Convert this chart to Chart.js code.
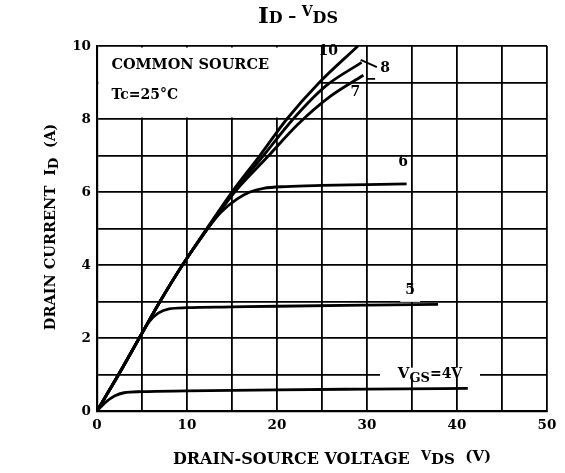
<!DOCTYPE html>
<html>
<head>
<meta charset="utf-8">
<script src="https://cdn.jsdelivr.net/npm/chart.js@4.4.1/dist/chart.umd.min.js"></script>
<style>
html,body{margin:0;padding:0;background:#fff;}
#c{display:block;}
</style>
</head>
<body>
<canvas id="c" width="565" height="473"></canvas>
<script>
// ---- data ----
const xTickValues = [0, 10, 20, 30, 40, 50];
const yTickValues = [0, 2, 4, 6, 8, 10];
const seriesNames = ['10', '8', '7', '6', '5', '4'];

const vds10 = [0, 2.4, 4.7, 7.0, 9.5, 12.2, 15.0, 18.1, 21.1, 24.7, 29.0];
const id10  = [0, 1, 2, 3, 4, 5, 6, 7, 8, 9, 10];

const vds8 = [0, 2.4, 4.7, 7.0, 9.5, 12.3, 15.2, 18.5, 21.8, 25.4, 29.4];
const id8  = [0, 1, 2, 3, 4, 5, 6, 7, 8, 8.9, 9.55];

const vds7 = [0, 2.4, 4.7, 7.0, 9.5, 12.3, 15.3, 18.9, 22.3, 25.8, 29.6];
const id7  = [0, 1, 2, 3, 4, 5, 6, 6.95, 7.85, 8.6, 9.2];

const vds6 = [0, 2.4, 4.7, 7.0, 9.5, 12.3, 13.8, 15.5, 17.0, 18.5, 21, 25, 30, 34.4];
const id6  = [0, 1, 2, 3, 4, 5, 5.45, 5.8, 6.0, 6.1, 6.15, 6.18, 6.2, 6.22];

const vds5 = [0, 2.4, 4.7, 5.8, 6.8, 8.0, 10, 15, 20, 30, 37.9];
const id5  = [0, 1, 2, 2.45, 2.68, 2.8, 2.83, 2.85, 2.87, 2.9, 2.92];

const vds4 = [0, 1, 2, 3, 5, 10, 20, 30, 41.2];
const id4  = [0, 0.25, 0.42, 0.5, 0.53, 0.55, 0.58, 0.6, 0.62];

// label anchors (data units)
const curveLabels = [
  {text: '10', v: 25.7, i: 9.84},
  {text: '8',  v: 32.0, i: 9.4},
  {text: '7',  v: 28.7, i: 8.74},
  {text: '6',  v: 34.0, i: 6.8},
  {text: '5',  v: 34.8, i: 3.3}
];

const FONT = '"DejaVu Serif", "Liberation Serif", serif';

function pts(xs, ys){ return xs.map((x,k)=>({x:x, y:ys[k]})); }
function ds(xs, ys){
  return {data: pts(xs, ys), borderColor:'#000', borderWidth:2.8, pointRadius:0,
          showLine:true, fill:false, cubicInterpolationMode:'monotone'};
}

function drawRich(ctx, segs, cx, cy){
  let w = 0;
  segs.forEach(s=>{ ctx.font = 'bold ' + s.size + 'px ' + FONT; s.w = ctx.measureText(s.t).width; w += s.w; });
  let x = cx - w/2;
  ctx.textAlign = 'left'; ctx.textBaseline = 'alphabetic';
  segs.forEach(s=>{ ctx.font = 'bold ' + s.size + 'px ' + FONT; ctx.fillText(s.t, x, cy + (s.dy||0)); x += s.w; });
}

const deco = {
  id: 'deco',
  beforeDatasetsDraw(chart){
    const ctx = chart.ctx, xs = chart.scales.x, ys = chart.scales.y;
    ctx.save();
    ctx.fillStyle = '#fff';
    // legend box (0..25 V, 8..10 A): hide inner grid
    const x0 = xs.getPixelForValue(0), x1 = xs.getPixelForValue(25);
    const y0 = ys.getPixelForValue(10), y1 = ys.getPixelForValue(8);
    ctx.fillRect(x0 + 1.5, y0 + 1.5, x1 - x0 - 3, y1 - y0 - 3);
    // gaps in grid for labels
    const gx = xs.getPixelForValue(34.8), gy = ys.getPixelForValue(3.1);
    ctx.fillRect(gx - 10, gy - 4, 20, 8);
    const vx = xs.getPixelForValue(37.0), vy = ys.getPixelForValue(1.05);
    ctx.fillRect(vx - 50, vy - 5, 100, 10);
    ctx.restore();
  },
  afterDatasetsDraw(chart){
    const ctx = chart.ctx, xs = chart.scales.x, ys = chart.scales.y;
    ctx.save();
    ctx.fillStyle = '#000'; ctx.strokeStyle = '#000';
    // title
    drawRich(ctx, [{t:'I', size:23}, {t:'D', size:16}, {t:' \u2013 ', size:16, dy:-1}, {t:'V', size:14, dy:-7}, {t:'DS', size:16}], 298, 23);
    // box text
    ctx.textAlign = 'left'; ctx.textBaseline = 'middle';
    ctx.font = 'bold 14.5px ' + FONT;
    ctx.fillText('COMMON SOURCE', xs.getPixelForValue(1.6), ys.getPixelForValue(9.48));
    ctx.font = 'bold 14px ' + FONT;
    ctx.fillText('Tc=25\u00B0C', xs.getPixelForValue(1.6), ys.getPixelForValue(8.65));
    // curve labels
    ctx.textAlign = 'center'; ctx.font = 'bold 14px ' + FONT;
    curveLabels.forEach(l => ctx.fillText(l.text, xs.getPixelForValue(l.v), ys.getPixelForValue(l.i)));
    // arrow for 8
    ctx.lineWidth = 1.8;
    ctx.beginPath();
    ctx.moveTo(xs.getPixelForValue(31.1), ys.getPixelForValue(9.42));
    ctx.lineTo(xs.getPixelForValue(29.3), ys.getPixelForValue(9.62));
    ctx.moveTo(xs.getPixelForValue(29.9), ys.getPixelForValue(9.1));
    ctx.lineTo(xs.getPixelForValue(30.9), ys.getPixelForValue(9.1));
    ctx.stroke();
    // VGS = 4V label
    drawRich(ctx, [{t:'V', size:15}, {t:'GS', size:13, dy:4}, {t:'=4V', size:14}], xs.getPixelForValue(37.0), ys.getPixelForValue(1.05) + 5);
    // x axis title
    drawRich(ctx, [{t:'DRAIN-SOURCE VOLTAGE  ', size:16}, {t:'V', size:13, dy:-4}, {t:'DS', size:15}, {t:'  (V)', size:15, dy:-3}], 332, 464);
    // y axis title
    ctx.translate(50, 227);
    ctx.rotate(-Math.PI/2);
    drawRich(ctx, [{t:'DRAIN CURRENT  I', size:14.5}, {t:'D', size:13, dy:3}, {t:'  (A)', size:14}], 0, 5);
    ctx.restore();
  }
};

new Chart(document.getElementById('c'), {
  type: 'scatter',
  data: { datasets: [ds(vds10,id10), ds(vds8,id8), ds(vds7,id7), ds(vds6,id6), ds(vds5,id5), ds(vds4,id4)] },
  options: {
    responsive: false, animation: false,
    layout: { padding: { top: 46, right: 18, left: 0, bottom: 0 } },
    plugins: { legend: {display:false}, tooltip: {enabled:false}, title: {display:false} },
    scales: {
      x: {
        type: 'linear', min: 0, max: 50,
        afterFit(s){ s.height = 62; },
        ticks: { stepSize: 5, padding: 6, color:'#000', maxRotation: 0, autoSkip: false,
                 font: {family: FONT, size: 13.5, weight: 'bold'},
                 callback: v => xTickValues.includes(v) ? String(v) : '' },
        grid: { color:'#000', lineWidth: 1.8, drawTicks: false },
        border: { color:'#000', width: 2.2 }
      },
      y: {
        type: 'linear', min: 0, max: 10,
        afterFit(s){ s.width = 97; },
        ticks: { stepSize: 1, padding: 6, color:'#000', autoSkip: false,
                 font: {family: FONT, size: 13.5, weight: 'bold'},
                 callback: v => yTickValues.includes(v) ? String(v) : '' },
        grid: { color:'#000', lineWidth: 1.8, drawTicks: false },
        border: { color:'#000', width: 2.2 }
      }
    }
  },
  plugins: [deco]
});
</script>
</body>
</html>
